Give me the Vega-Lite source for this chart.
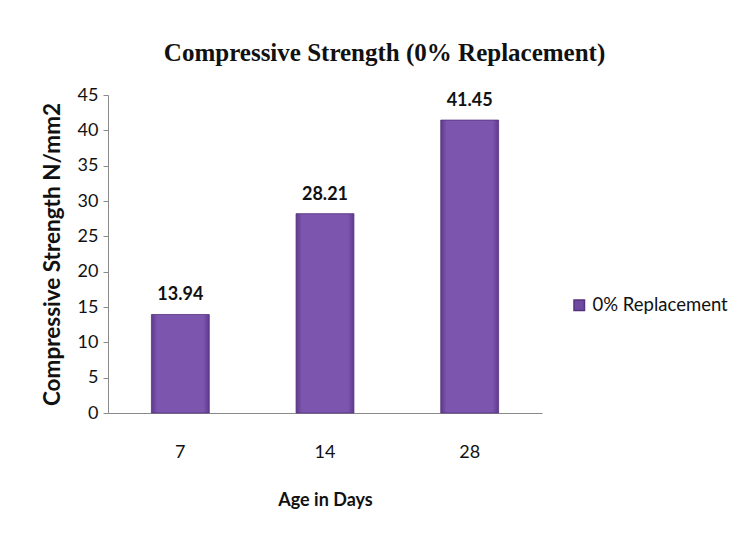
{
  "$schema": "https://vega.github.io/schema/vega-lite/v6.json",
  "width": 434,
  "height": 318,
  "autosize": {"type": "none"},
  "padding": {"left": 108, "top": 95, "right": 198, "bottom": 135},
  "background": "white",
  "title": {
    "text": "Compressive Strength (0% Replacement)",
    "font": "Liberation Serif",
    "fontSize": 25,
    "fontWeight": "bold",
    "color": "#111111",
    "anchor": "middle",
    "frame": "bounds",
    "offset": 20
  },
  "data": {
    "values": [
      {"age": "7", "strength": 13.94, "series": "0% Replacement"},
      {"age": "14", "strength": 28.21, "series": "0% Replacement"},
      {"age": "28", "strength": 41.45, "series": "0% Replacement"}
    ]
  },
  "encoding": {
    "x": {
      "field": "age",
      "type": "ordinal",
      "sort": null,
      "title": "Age in Days",
      "scale": {"paddingInner": 0.6, "paddingOuter": 0.3},
      "axis": {
        "labelAngle": 0,
        "labelPadding": 30,
        "ticks": false,
        "titlePadding": 30
      }
    },
    "y": {
      "field": "strength",
      "type": "quantitative",
      "title": "Compressive Strength N/mm2",
      "scale": {"domain": [0, 45], "nice": false},
      "axis": {"values": [0, 5, 10, 15, 20, 25, 30, 35, 40, 45], "grid": false, "tickSize": 5, "labelPadding": 5, "titlePadding": 13, "titleFontSize": 22.5}
    }
  },
  "layer": [
    {
      "mark": {
        "type": "bar",
        "stroke": "#55327f",
        "strokeWidth": 0.8,
        "fill": {
          "x1": 0, "y1": 0, "x2": 1, "y2": 0,
          "gradient": "linear",
          "stops": [
            {"offset": 0, "color": "#5e3a8c"},
            {"offset": 0.1, "color": "#7b55ae"},
            {"offset": 0.9, "color": "#7b55ae"},
            {"offset": 1, "color": "#5e3a8c"}
          ]
        }
      },
      "encoding": {
        "color": {
          "field": "series",
          "type": "nominal",
          "title": null,
          "scale": {"range": ["#6e4aa0"]},
          "legend": {
            "orient": "none",
            "legendX": 462,
            "legendY": 201,
            "symbolType": "square",
            "symbolSize": 110,
            "labelFontSize": 18.5,
            "labelFont": "Lato",
            "labelColor": "#111111",
            "padding": 0
          }
        }
      }
    },
    {
      "mark": {
        "type": "text",
        "baseline": "bottom",
        "dy": -10,
        "font": "Lato",
        "fontSize": 18,
        "fontWeight": "bold",
        "color": "#111111"
      },
      "encoding": {
        "text": {"field": "strength", "type": "quantitative", "format": ".2f"}
      }
    }
  ],
  "config": {
    "view": {"stroke": null},
    "axis": {
      "domainColor": "#8a8a8a",
      "tickColor": "#8a8a8a",
      "labelFont": "Lato",
      "labelFontSize": 18,
      "labelColor": "#111111",
      "titleFont": "Lato",
      "titleFontSize": 18,
      "titleFontWeight": "bold",
      "titleColor": "#111111"
    }
  }
}
